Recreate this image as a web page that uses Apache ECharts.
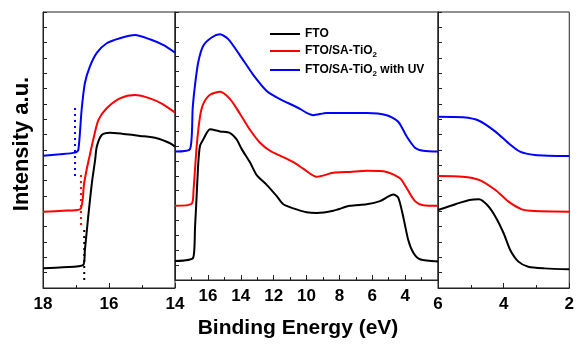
<!DOCTYPE html>
<html>
<head>
<meta charset="utf-8">
<script src="https://cdn.jsdelivr.net/npm/echarts@6/dist/echarts.min.js"></script>
<style>
    html, body { margin: 0; padding: 0; background: #fff; }
    #chart { width: 577px; height: 344px; }
</style>
</head>
<body>
<div id="chart"></div>
<script>
// 数据 - [binding energy (eV), intensity (a.u.)]
// left panel 18 -> 14
const ftoLeft = [[18, 1.28], [17.4, 1.36], [16.78, 1.5], [16.73, 2.48], [16.63, 4.65], [16.52, 6.83], [16.42, 8.35], [16.37, 9.22], [16.22, 9.98], [15.97, 10.13], [15.57, 10.05], [15.06, 9.92], [14.55, 9.77], [14.15, 9.44], [14, 9.22]]
const saLeft = [[18, 4.98], [17.4, 5.04], [16.88, 5.13], [16.8, 5.74], [16.76, 6.72], [16.68, 7.7], [16.58, 8.68], [16.48, 9.65], [16.32, 10.96], [16.07, 11.72], [15.67, 12.37], [15.21, 12.59], [14.76, 12.37], [14.36, 11.98], [14, 11.44]]
const uvLeft = [[18, 8.63], [17.5, 8.72], [17.03, 8.83], [16.93, 9.0], [16.83, 11.61], [16.73, 13.37], [16.58, 14.44], [16.37, 15.33], [16.07, 15.96], [15.67, 16.29], [15.21, 16.5], [14.76, 16.22], [14.36, 15.85], [14, 15.35]]

// middle panel 18 -> 2
const ftoMid = [[18, 1.28], [16.89, 1.5], [16.78, 3.57], [16.68, 5.74], [16.58, 7.91], [16.48, 9.0], [16.28, 9.44], [15.87, 10.13], [15.26, 9.98], [14.65, 9.87], [14.25, 9.44], [13.94, 8.79], [13.44, 7.91], [13.03, 7.05], [12.42, 6.39], [11.81, 5.63], [11.41, 5.09], [10.8, 4.81], [9.99, 4.55], [9.38, 4.5], [8.37, 4.65], [7.36, 4.98], [6.34, 5.09], [5.53, 5.3], [4.72, 5.74], [4.42, 5.53], [4.11, 4.22], [3.81, 2.69], [3.5, 1.83], [3.1, 1.39], [2, 1.24]]
const saMid = [[18, 4.98], [16.98, 5.13], [16.87, 6.07], [16.68, 9.0], [16.48, 10.96], [16.28, 11.83], [15.87, 12.44], [15.26, 12.64], [14.65, 12.15], [14.05, 11.17], [13.44, 10.09], [12.83, 9.22], [12.22, 8.68], [11.61, 8.35], [10.8, 7.91], [10.2, 7.48], [9.38, 6.93], [8.37, 7.2], [7.36, 7.26], [6.34, 7.33], [5.12, 7.26], [4.31, 6.83], [3.91, 6.18], [3.4, 5.3], [2.9, 5.02], [2, 4.98]]
const uvMid = [[18, 8.63], [17.09, 8.78], [16.92, 11.61], [16.78, 13.13], [16.58, 14.66], [16.28, 15.74], [15.77, 16.29], [15.26, 16.5], [14.76, 16.18], [14.05, 15.09], [13.24, 13.78], [12.42, 12.7], [11.61, 12.15], [10.8, 11.72], [10.4, 11.5], [9.99, 11.22], [9.59, 11.07], [8.77, 11.22], [7.76, 11.22], [6.34, 11.22], [5.12, 11.07], [4.42, 10.63], [3.91, 9.65], [3.4, 8.89], [2.9, 8.68], [2, 8.63]]

// right panel 6 -> 2
const ftoRight = [[6, 5.09], [5.45, 5.48], [5.04, 5.74], [4.75, 5.79], [4.5, 5.41], [4.25, 4.65], [4.0, 3.57], [3.8, 2.48], [3.55, 1.72], [3.25, 1.39], [2.75, 1.28], [2, 1.22]]
const saRight = [[6, 7.31], [5.25, 7.26], [4.75, 7.05], [4.25, 6.39], [3.85, 5.63], [3.45, 5.13], [3.05, 5.02], [2, 4.98]]
const uvRight = [[6, 11.17], [5.24, 11.13], [4.75, 10.91], [4.25, 10.2], [3.85, 9.44], [3.5, 8.89], [3.05, 8.68], [2, 8.61]]

// onset markers (dotted)
const onsetFto = [[16.75, 3.78], [16.75, 0.31]]
const onsetSa = [[16.85, 7.37], [16.85, 3.91]]
const onsetUv = [[17.03, 11.74], [17.03, 7.18]]

const names = ['FTO', 'FTO/SA-TiO2', 'FTO/SA-TiO2 with UV']
const colors = ['#000000', '#ff0000', '#0000ff']
const xRanges = [[14, 18], [2, 18], [2, 6]]

// 一个面板一个 grid
const grids = [
    { left: 43, top: 12, width: 132, height: 276 },
    { left: 175, top: 12, width: 263, height: 276 },
    { left: 438, top: 12, width: 134, height: 276 },
]

const font = 'Liberation Sans, Arial, sans-serif'

function xAxisOf(i) {
    return {
        type: 'value',
        gridIndex: i,
        min: xRanges[i][0],
        max: xRanges[i][1],
        interval: 2,
        inverse: true,
        axisLine: { lineStyle: { color: '#222', width: 1 } },
        axisTick: { inside: true, length: 5, lineStyle: { color: '#222' } },
        minorTick: { show: true, splitNumber: 2, length: 3, lineStyle: { color: '#222' } },
        splitLine: { show: false },
        axisLabel: {
            color: '#000',
            fontFamily: font,
            fontWeight: 'bold',
            fontSize: 17,
            margin: 8,
            showMinLabel: i !== 1,
            showMaxLabel: i !== 1,
        },
    }
}

function yAxisOf(i) {
    return {
        type: 'value',
        gridIndex: i,
        min: 0,
        max: 18,
        interval: 1,
        axisLine: { lineStyle: { color: '#222', width: 1 } },
        axisTick: { inside: true, length: 4, lineStyle: { color: '#222' } },
        splitLine: { show: false },
        axisLabel: { show: false },
    }
}

let xAxes = [0, 1, 2].map(xAxisOf)
let yAxes = [0, 1, 2].map(yAxisOf)

// 轴名
xAxes[1].name = 'Binding Energy (eV)'
xAxes[1].nameLocation = 'middle'
xAxes[1].nameGap = 38
xAxes[1].nameTextStyle = { color: '#000', fontFamily: font, fontWeight: 'bold', fontSize: 21, padding: [0, 17, 0, 0] }

yAxes[0].name = 'Intensity a.u.'
yAxes[0].nameLocation = 'middle'
yAxes[0].nameGap = 10
yAxes[0].nameTextStyle = { color: '#000', fontFamily: font, fontWeight: 'bold', fontSize: 22, padding: [0, 0, 0, 12] }

function curve(name, data, i, color) {
    return {
        name: name,
        type: 'line',
        xAxisIndex: i,
        yAxisIndex: i,
        data: data,
        symbol: 'none',
        smooth: 0.25,
        lineStyle: { color: color, width: 2 },
        itemStyle: { color: color },
        z: 3,
    }
}

function onset(data, color) {
    return {
        name: 'onset',
        type: 'line',
        xAxisIndex: 0,
        yAxisIndex: 0,
        data: data,
        symbol: 'none',
        lineStyle: { color: color, width: 2, type: [2, 4] },
        z: 2,
    }
}

let series = [
    curve(names[0], ftoLeft, 0, colors[0]),
    curve(names[1], saLeft, 0, colors[1]),
    curve(names[2], uvLeft, 0, colors[2]),
    curve(names[0], ftoMid, 1, colors[0]),
    curve(names[1], saMid, 1, colors[1]),
    curve(names[2], uvMid, 1, colors[2]),
    curve(names[0], ftoRight, 2, colors[0]),
    curve(names[1], saRight, 2, colors[1]),
    curve(names[2], uvRight, 2, colors[2]),
    onset(onsetFto, colors[0]),
    onset(onsetSa, colors[1]),
    onset(onsetUv, colors[2]),
]

let option = {
    animation: false,
    backgroundColor: '#fff',
    grid: grids.map(g => Object.assign({ show: true, borderColor: '#222', borderWidth: 1, backgroundColor: 'transparent' }, g)),
    xAxis: xAxes,
    yAxis: yAxes,
    // 图例
    legend: {
        data: names,
        orient: 'vertical',
        left: 265,
        top: 23,
        itemWidth: 30,
        itemHeight: 12,
        itemGap: 5,
        icon: 'path://M0,5 L30,5 L30,7 L0,7 Z',
        textStyle: {
            color: '#000',
            fontFamily: font,
            fontWeight: 'bold',
            fontSize: 12,
            rich: {
                sub: { fontFamily: font, fontWeight: 'bold', fontSize: 8, padding: [8, 0, 0, 0] },
            },
        },
        formatter: n => n.replace('TiO2', 'TiO{sub|2}'),
    },
    series: series,
}

const mychart = echarts.init(document.getElementById('chart'))
mychart.setOption(option)
</script>
</body>
</html>
